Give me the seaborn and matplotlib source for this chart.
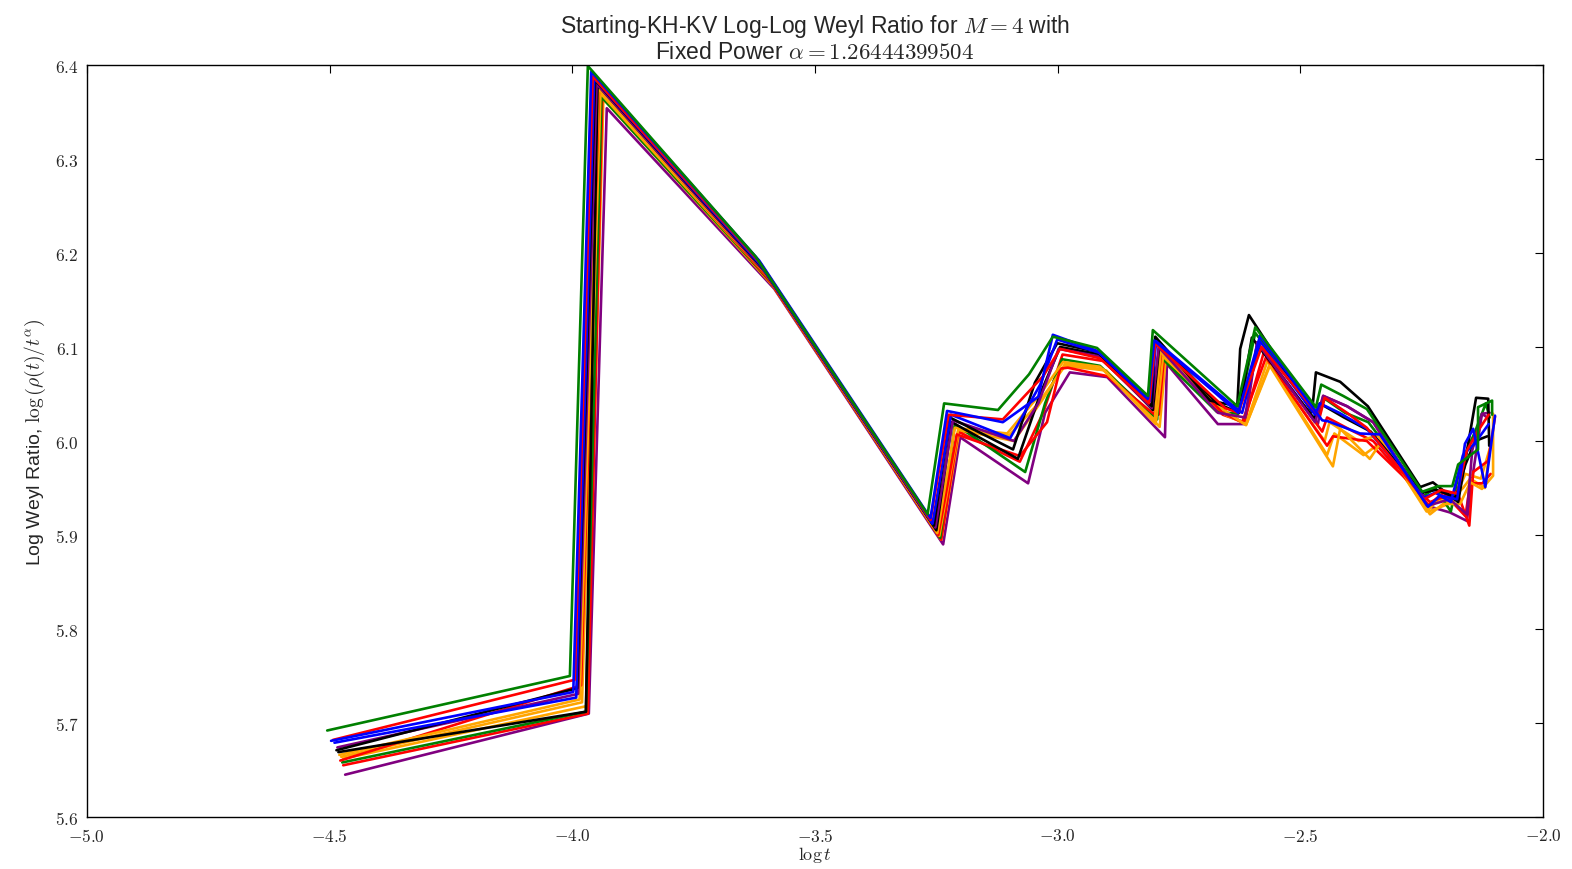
import matplotlib
matplotlib.use("Agg")
import matplotlib.pyplot as plt
import seaborn as sns
from matplotlib.ticker import FormatStrFormatter, MultipleLocator

# series: (colour, log t values, log Weyl ratio values)
c1 = "green"
x1 = [-4.505, -4.005, -3.968, -3.622, -3.268, -3.234, -3.123, -3.059, -3.010, -2.919, -2.814, -2.804, -2.630,
      -2.593, -2.468, -2.457, -2.412, -2.363, -2.249, -2.216, -2.187, -2.175, -2.134, -2.134, -2.105, -2.105]
y1 = [5.692, 5.750, 6.399, 6.196, 5.922, 6.040, 6.033, 6.071, 6.111, 6.099, 6.048, 6.118, 6.037,
      6.121, 6.036, 6.060, 6.048, 6.034, 5.946, 5.952, 5.952, 5.975, 5.991, 6.036, 6.043, 6.028]

c2 = "blue"
x2 = [-4.497, -3.998, -3.961, -3.615, -3.262, -3.228, -3.113, -3.040, -3.010, -2.919, -2.814, -2.801, -2.628,
      -2.583, -2.455, -2.443, -2.377, -2.336, -2.237, -2.212, -2.177, -2.161, -2.144, -2.119, -2.099]
y2 = [5.681, 5.733, 6.393, 6.192, 5.918, 6.032, 6.020, 6.047, 6.113, 6.096, 6.045, 6.107, 6.030,
      6.112, 6.022, 6.021, 6.008, 6.007, 5.930, 5.942, 5.938, 5.997, 6.013, 5.951, 6.027]

c3 = "red"
x3 = [-4.493, -3.995, -3.958, -3.612, -3.262, -3.225, -3.113, -3.030, -2.995, -2.913, -2.812, -2.799, -2.655,
      -2.628, -2.580, -2.460, -2.450, -2.404, -2.363, -2.245, -2.210, -2.177, -2.157, -2.135, -2.112]
y3 = [5.682, 5.746, 6.388, 6.189, 5.916, 6.028, 6.023, 6.069, 6.098, 6.088, 6.040, 6.104, 6.035,
      6.030, 6.100, 6.026, 6.046, 6.030, 6.014, 5.938, 5.948, 5.944, 5.990, 6.010, 6.028]

c4 = "blue"
x4 = [-4.490, -3.992, -3.955, -3.610, -3.258, -3.220, -3.098, -3.036, -3.001, -2.915, -2.810, -2.797, -2.640,
      -2.620, -2.583, -2.470, -2.460, -2.420, -2.363, -2.245, -2.222, -2.190, -2.165, -2.140, -2.112]
y4 = [5.679, 5.727, 6.386, 6.186, 5.912, 6.028, 6.003, 6.060, 6.108, 6.094, 6.042, 6.106, 6.038,
      6.030, 6.106, 6.028, 6.040, 6.030, 6.013, 5.940, 5.945, 5.935, 5.985, 5.998, 6.018]

c5 = "black"
x5 = [-4.486, -3.990, -3.953, -3.606, -3.255, -3.222, -3.092, -3.047, -3.001, -2.919, -2.806, -2.799, -2.686,
      -2.630, -2.624, -2.606, -2.476, -2.468, -2.418, -2.361, -2.253, -2.227, -2.175, -2.138, -2.113, -2.111]
y5 = [5.671, 5.737, 6.384, 6.183, 5.910, 6.025, 5.991, 6.062, 6.104, 6.095, 6.037, 6.111, 6.043,
      6.037, 6.098, 6.134, 6.031, 6.073, 6.063, 6.037, 5.951, 5.956, 5.935, 6.046, 6.045, 5.995]

c6 = "purple"
x6 = [-4.484, -3.988, -3.950, -3.603, -3.252, -3.216, -3.090, -3.040, -2.998, -2.915, -2.806, -2.792, -2.670,
      -2.614, -2.589, -2.470, -2.453, -2.404, -2.350, -2.239, -2.192, -2.157, -2.146, -2.126, -2.110]
y6 = [5.674, 5.731, 6.380, 6.180, 5.908, 6.022, 6.000, 6.040, 6.098, 6.090, 6.035, 6.100, 6.030,
      6.025, 6.105, 6.020, 6.048, 6.037, 6.020, 5.931, 5.938, 5.922, 5.990, 6.029, 6.030]

c7 = "black"
x7 = [-4.482, -3.972, -3.948, -3.600, -3.250, -3.218, -3.082, -3.036, -2.995, -2.913, -2.804, -2.790, -2.672,
      -2.626, -2.600, -2.472, -2.460, -2.410, -2.355, -2.250, -2.220, -2.180, -2.160, -2.140, -2.115]
y7 = [5.669, 5.712, 6.379, 6.178, 5.905, 6.020, 5.981, 6.050, 6.100, 6.092, 6.033, 6.105, 6.040,
      6.030, 6.110, 6.024, 6.040, 6.025, 6.010, 5.945, 5.948, 5.940, 5.975, 6.000, 6.005]

c8 = "orange"
x8 = [-4.480, -3.985, -3.946, -3.598, -3.248, -3.212, -3.104, -3.036, -2.989, -2.913, -2.800, -2.788, -2.650,
      -2.612, -2.563, -2.433, -2.418, -2.357, -2.332, -2.233, -2.206, -2.171, -2.150, -2.126, -2.103, -2.103]
y8 = [5.666, 5.725, 6.375, 6.176, 5.902, 6.014, 6.008, 6.050, 6.084, 6.079, 6.022, 6.095, 6.030,
      6.017, 6.080, 5.973, 6.013, 5.981, 6.000, 5.922, 5.933, 5.933, 5.956, 5.949, 5.963, 6.029]

c9 = "red"
x9 = [-4.478, -3.982, -3.945, -3.596, -3.246, -3.208, -3.078, -3.022, -2.995, -2.979, -2.898, -2.800, -2.786,
      -2.660, -2.620, -2.571, -2.445, -2.433, -2.363, -2.233, -2.177, -2.152, -2.144, -2.113, -2.099]
y9 = [5.660, 5.740, 6.376, 6.173, 5.900, 6.007, 5.984, 6.020, 6.077, 6.078, 6.069, 6.028, 6.098,
      6.030, 6.020, 6.089, 5.995, 6.005, 6.000, 5.935, 5.946, 5.910, 5.967, 5.979, 6.026]

c10 = "orange"
x10 = [-4.476, -3.980, -3.942, -3.594, -3.244, -3.205, -3.090, -3.030, -2.985, -2.905, -2.798, -2.783, -2.655,
       -2.612, -2.568, -2.450, -2.440, -2.380, -2.340, -2.240, -2.215, -2.185, -2.160, -2.128, -2.108]
y10 = [5.664, 5.722, 6.370, 6.172, 5.899, 6.012, 6.000, 6.045, 6.082, 6.076, 6.018, 6.090, 6.028,
       6.018, 6.085, 6.000, 6.020, 6.000, 6.006, 5.925, 5.938, 5.935, 5.965, 5.960, 5.995]

c11 = "green"
x11 = [-4.474, -3.972, -3.940, -3.592, -3.242, -3.212, -3.067, -3.026, -2.991, -2.913, -2.795, -2.789, -2.672,
       -2.628, -2.593, -2.462, -2.450, -2.408, -2.360, -2.245, -2.222, -2.190, -2.170, -2.140, -2.118, -2.110]
y11 = [5.658, 5.712, 6.366, 6.170, 5.897, 6.018, 5.967, 6.040, 6.087, 6.080, 6.023, 6.090, 6.031,
       6.029, 6.115, 6.028, 6.045, 6.030, 6.020, 5.942, 5.950, 5.925, 5.975, 6.010, 6.040, 6.025]

c12 = "red"
x12 = [-4.472, -3.968, -3.938, -3.590, -3.240, -3.205, -3.078, -3.030, -2.990, -2.905, -2.792, -2.780, -2.660,
       -2.616, -2.575, -2.455, -2.445, -2.390, -2.350, -2.236, -2.205, -2.160, -2.150, -2.125, -2.108]
y12 = [5.655, 5.710, 6.372, 6.168, 5.895, 6.010, 5.978, 6.030, 6.092, 6.085, 6.028, 6.095, 6.028,
       6.020, 6.095, 6.010, 6.025, 6.010, 6.000, 5.932, 5.945, 5.920, 5.955, 5.955, 5.965]

c13 = "orange"
x13 = [-4.472, -3.970, -3.936, -3.588, -3.240, -3.203, -3.100, -3.040, -2.985, -2.900, -2.790, -2.778, -2.650,
       -2.612, -2.563, -2.445, -2.430, -2.370, -2.335, -2.236, -2.200, -2.165, -2.150, -2.120, -2.110]
y13 = [5.662, 5.718, 6.364, 6.166, 5.895, 6.010, 6.006, 6.040, 6.080, 6.075, 6.015, 6.085, 6.030,
       6.017, 6.082, 5.985, 6.008, 5.985, 5.998, 5.925, 5.932, 5.950, 5.960, 5.950, 5.990]

c14 = "purple"
x14 = [-4.468, -3.966, -3.929, -3.584, -3.236, -3.201, -3.061, -3.026, -2.975, -2.898, -2.779, -2.775, -2.670,
       -2.614, -2.589, -2.464, -2.453, -2.404, -2.350, -2.239, -2.192, -2.157, -2.146, -2.126, -2.115]
y14 = [5.645, 5.710, 6.354, 6.162, 5.890, 6.004, 5.955, 6.030, 6.073, 6.068, 6.004, 6.082, 6.018,
       6.018, 6.105, 6.018, 6.048, 6.037, 6.020, 5.931, 5.924, 5.915, 5.960, 6.029, 6.025]

series = [(c1, x1, y1), (c2, x2, y2), (c3, x3, y3), (c4, x4, y4), (c5, x5, y5), (c6, x6, y6), (c7, x7, y7),
          (c8, x8, y8), (c9, x9, y9), (c10, x10, y10), (c11, x11, y11), (c12, x12, y12), (c13, x13, y13),
          (c14, x14, y14)]

sns.set_style("white")
plt.rcParams['font.family'] = ['Liberation Sans', 'DejaVu Sans']
plt.rcParams['mathtext.fontset'] = 'cm'
plt.rcParams['xtick.direction'] = 'in'
plt.rcParams['ytick.direction'] = 'in'
plt.rcParams['xtick.top'] = True
plt.rcParams['ytick.right'] = True

fig = plt.figure(figsize=(15.72, 8.70), dpi=100)
ax = fig.add_axes([0.0553, 0.0598, 0.9263, 0.8643])

# draw back to front so the first series sits on top, as in the reference
for col, xs, ys in reversed(series):
    sns.lineplot(x=xs, y=ys, color=col, linewidth=1.9, sort=False, estimator=None, ax=ax)

ax.set_xlim(-5.0, -2.0)
ax.set_ylim(5.6, 6.4)
ax.xaxis.set_major_locator(MultipleLocator(0.5))
ax.yaxis.set_major_locator(MultipleLocator(0.1))
ax.xaxis.set_major_formatter(FormatStrFormatter('$%.1f$'))
ax.yaxis.set_major_formatter(FormatStrFormatter('$%.1f$'))
ax.tick_params(axis='both', which='major', length=6, width=0.8, color='black', labelsize=12.5)
ax.tick_params(axis='x', pad=7)
ax.tick_params(axis='y', pad=6)
for sp in ax.spines.values():
    sp.set_color('black')
    sp.set_linewidth(1.0)

ax.set_title("Starting-KH-KV Log-Log Weyl Ratio for $M = 4$ with\nFixed Power $\\alpha = 1.26444399504$",
             fontsize=16.5, pad=5, linespacing=1.05)
ax.set_xlabel("$\\log t$", fontsize=13, labelpad=0)
ax.set_ylabel("Log Weyl Ratio, $\\log\\left(\\rho(t)/t^{\\alpha}\\right)$", fontsize=14, labelpad=5)

plt.savefig("out.png", dpi=100)
